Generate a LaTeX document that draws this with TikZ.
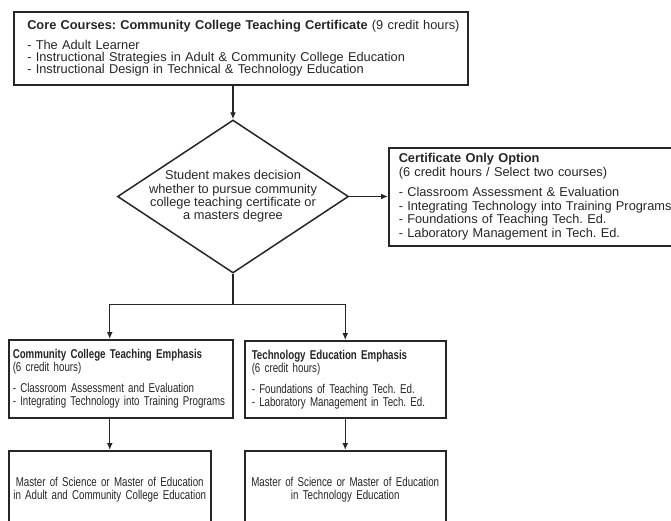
\documentclass[tikz,border=0pt]{standalone}
\usepackage{fontspec}
\setmainfont{Liberation Sans}
\newfontfamily\narrowfont[FakeStretch=0.76]{Liberation Sans}
\usetikzlibrary{shapes,arrows.meta,positioning,calc}
\frenchspacing

\begin{document}
\begin{tikzpicture}[x=1pt, y=-1pt, >={Latex[length=7pt,width=6pt]},
  box/.style={draw=black!85, line width=1.5pt, rectangle, anchor=north west, inner ysep=0pt, align=left, text=black!85},
  narrowtext/.style={font=\narrowfont\fontsize{12.8}{13}\selectfont},
  flow/.style={->, line width=1.4pt, draw=black!85}]
\useasboundingbox (0,0) rectangle (671,520);
\clip (0,0) rectangle (671,520);

% ===== Core courses =====
\node[box, minimum height=73pt, inner xsep=13.5pt, text width=427pt, font=\fontsize{12.8}{12}\selectfont] (core) at (13,11) {\mbox{\textbf{Core Courses: Community College Teaching Certificate} (9 credit hours)}\\[8pt]
- The Adult Learner\\
- Instructional Strategies in Adult \& Community College Education\\
- Instructional Design in Technical \& Technology Education};

% Decision
\node[diamond, draw=black!85, line width=1.5pt, aspect=1.5, inner sep=-10pt, minimum width=231pt, minimum height=153pt, align=center, text=black!85, font=\fontsize{12.8}{13.3}\selectfont] (decide) at (233,196.5) {Student makes decision\\whether to pursue community\\college teaching certificate or\\a masters degree};

% Certificate only
\node[box, minimum height=98pt, inner xsep=10pt, text width=300pt, font=\fontsize{12.8}{13.5}\selectfont] (cert) at (388,147) {\textbf{Certificate Only Option}\\
(6 credit hours / Select two courses)\\[7pt]
- Classroom Assessment \& Evaluation\\
- Integrating Technology into Training Programs\\
- Foundations of Teaching Tech. Ed.\\
- Laboratory Management in Tech. Ed.};

% ===== Emphasis boxes =====
\node[box, narrowtext, minimum height=78pt, inner xsep=4pt, text width=216pt] (ccte) at (8,339) {\textbf{Community College Teaching Emphasis}\\
(6 credit hours)\\[8pt]
- Classroom Assessment and Evaluation\\
- Integrating Technology into Training Programs};
\node[box, narrowtext, minimum height=77pt, inner xsep=7pt, text width=187pt] (tee) at (244,340) {\textbf{Technology Education Emphasis}\\
(6 credit hours)\\[8pt]
- Foundations of Teaching Tech. Ed.\\
- Laboratory Management in Tech. Ed.};

% ===== Degrees =====
\node[box, narrowtext, align=center, minimum height=78pt, inner xsep=0pt, text width=202pt] (msA) at (8,450) {Master of Science or Master of Education\\in Adult and Community College Education};
\node[box, narrowtext, align=center, minimum height=78pt, inner xsep=0pt, text width=201pt] (msB) at (244,450) {Master of Science or Master of Education\\in Technology Education};

% Connectors
\draw[flow] (core.south -| decide.north) -- (decide.north);
\draw[flow] (decide.east) -- (decide.east -| cert.west);
\draw[line width=1.4pt, draw=black!85] (decide.south) -- ++(0,31) coordinate (split);
\draw[flow] (split) -| (ccte.north -| msA.north);
\draw[flow] (split) -| (tee.north -| msB.north);
\draw[flow] (ccte.south -| msA.north) -- (msA.north);
\draw[flow] (tee.south -| msB.north) -- (msB.north);

\end{tikzpicture}
\end{document}
